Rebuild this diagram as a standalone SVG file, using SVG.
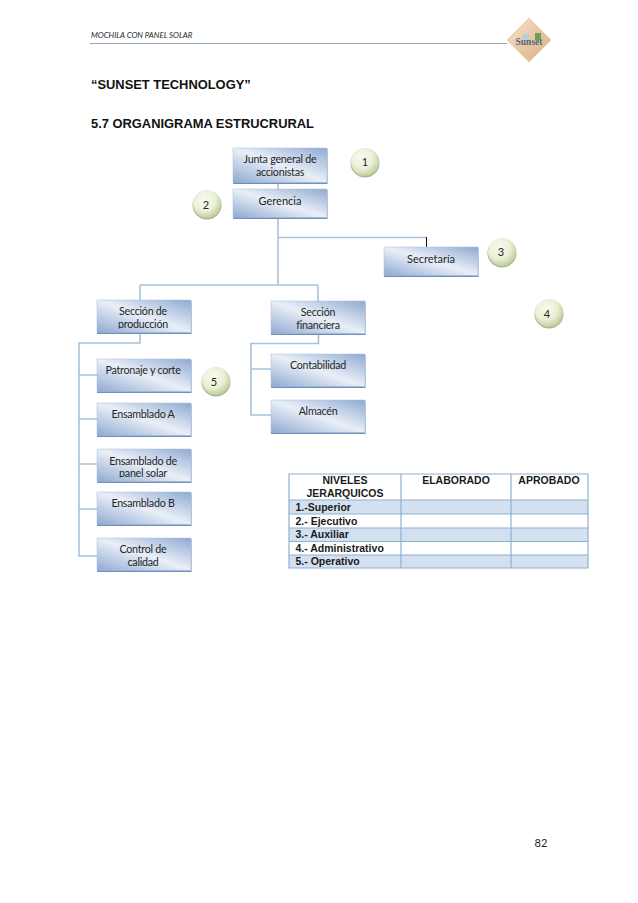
<svg xmlns="http://www.w3.org/2000/svg" width="638" height="903" viewBox="0 0 638 903">
<style>
text{font-family:"Lato","Carlito","Liberation Sans",sans-serif;fill:#262626;text-anchor:middle}
.n{font-size:10.700px;letter-spacing:-.25px}
.m{font-size:11px}
.h{font-family:"Liberation Sans",Arial,sans-serif;font-weight:bold;font-size:12.9px;fill:#111;text-anchor:start}
.t{font-family:"Liberation Sans",Arial,sans-serif;font-weight:bold;font-size:10.5px;fill:#1a1a1a}
.l{text-anchor:start}
.b{fill:url(#bg);stroke:#a9bedb;stroke-width:.5}
.s{fill:#6f8fba;filter:url(#blur)}
.c{fill:url(#cg)}
.cs{fill:#aeb59c;filter:url(#blur)}
.w{fill:none;stroke:#a9c1dc;stroke-width:1.6}
.g{stroke:#8fb0d2;stroke-width:1.2;fill:none}
</style>
<defs>
<filter id="blur" x="-10%" y="-10%" width="120%" height="120%"><feGaussianBlur stdDeviation=".6"/></filter>
<linearGradient id="bg" x1="0" y1="1" x2="1" y2="0">
<stop offset="0" stop-color="#8fa9d2"/><stop offset=".5" stop-color="#e9eff7"/><stop offset="1" stop-color="#8fa9d2"/>
</linearGradient>
<radialGradient id="cg" cx=".4" cy=".35" r=".72">
<stop offset="0" stop-color="#fafbf0"/><stop offset=".55" stop-color="#eaf0d6"/><stop offset="1" stop-color="#b7c88c"/>
</radialGradient>
<linearGradient id="dg" x1="0" y1="0" x2="1" y2="1">
<stop offset="0" stop-color="#f6e2ca"/><stop offset="1" stop-color="#dcae80"/>
</linearGradient>
<clipPath id="c1"><rect x="96" y="300" width="96" height="28.500"/></clipPath>
<clipPath id="c2"><rect x="96" y="449" width="96" height="28.500"/></clipPath>
</defs>
<rect width="638" height="903" fill="#fff"/>

<g id="page-header">
<text x="91" y="38" style="font-size:7.9px;font-style:italic;text-anchor:start">MOCHILA CON PANEL SOLAR</text>
<path d="M90 43.500H507" stroke="#92abc3" stroke-width="1"/>
</g>
<g id="logo">
<path d="M529 18L551 40L529 62L507 40Z" fill="url(#dg)" stroke="#e3c7a5" stroke-width=".8"/>
<circle cx="526" cy="37" r="3.500" fill="#b5cfdc"/>
<rect x="535" y="33" width="6" height="7" fill="#6f9e55"/>
<text x="529" y="45" style="font-family:'Liberation Serif',serif;font-size:9.500px;font-weight:bold;fill:#4f6a80">Sunset</text>
</g>
<text class="h" x="91" y="89">“SUNSET TECHNOLOGY”</text>
<text class="h" x="91" y="128">5.7 ORGANIGRAMA ESTRUCRURAL</text>

<g id="connectors">
<path class="w" d="M278 183V189M278 218V285M278 237.500H426M140 285H318M140 285V300M318 285V301"/>
<path d="M426.500 237V247" stroke="#111" stroke-width="1" fill="none"/>
<path class="w" d="M140 333V343H79V556H97M79 375H97M79 419H97M79 464H97M79 509H97"/>
<path class="w" d="M318.500 334V343.500H251V415H271M251 369H271"/>
</g>

<g id="n-junta"><rect class="s" x="233" y="149" width="94.500" height="35"/><rect class="b" x="233" y="148" width="94" height="34.500"/><text class="n" x="280" y="163">Junta general de</text><text class="n" x="280" y="175.500">accionistas</text></g>
<g id="n-gerencia"><rect class="s" x="233" y="190" width="94.500" height="29"/><rect class="b" x="233" y="189" width="94" height="28.500"/><text class="m" x="280" y="205">Gerencia</text></g>
<g id="n-secretaria"><rect class="s" x="384" y="248" width="94.500" height="29"/><rect class="b" x="384" y="247" width="94" height="28.500"/><text class="m" x="431" y="263">Secretaría</text></g>
<g id="n-produccion"><rect class="s" x="97" y="301" width="94.500" height="33"/><rect class="b" x="97" y="300" width="94" height="32.500"/><g clip-path="url(#c1)"><text class="n" x="143" y="315">Sección de</text><text class="n" x="143" y="328">producción</text></g></g>
<g id="n-financiera"><rect class="s" x="271" y="302" width="94.500" height="33"/><rect class="b" x="271" y="301" width="94" height="32.500"/><text class="n" x="318" y="316">Sección</text><text class="n" x="318" y="329">financiera</text></g>
<g id="n-patronaje"><rect class="s" x="97" y="360" width="94.500" height="33"/><rect class="b" x="97" y="359" width="94" height="32.500"/><text class="n" x="143" y="374">Patronaje y corte</text></g>
<g id="n-ensamblado-a"><rect class="s" x="97" y="404" width="94.500" height="33"/><rect class="b" x="97" y="403" width="94" height="32.500"/><text class="n" x="143" y="418">Ensamblado A</text></g>
<g id="n-ensamblado-panel"><rect class="s" x="97" y="450" width="94.500" height="33"/><rect class="b" x="97" y="449" width="94" height="32.500"/><g clip-path="url(#c2)"><text class="n" x="143" y="464.500">Ensamblado de</text><text class="n" x="143" y="477">panel solar</text></g></g>
<g id="n-ensamblado-b"><rect class="s" x="97" y="493" width="94.500" height="33"/><rect class="b" x="97" y="492" width="94" height="32.500"/><text class="n" x="143" y="507">Ensamblado B</text></g>
<g id="n-control"><rect class="s" x="97" y="539" width="94.500" height="33"/><rect class="b" x="97" y="538" width="94" height="32.500"/><text class="n" x="143" y="553">Control de</text><text class="n" x="143" y="566">calidad</text></g>
<g id="n-contabilidad"><rect class="s" x="271" y="355" width="94.500" height="33"/><rect class="b" x="271" y="354" width="94" height="32.500"/><text class="n" x="318" y="369">Contabilidad</text></g>
<g id="n-almacen"><rect class="s" x="271" y="401" width="94.500" height="33"/><rect class="b" x="271" y="400" width="94" height="32.500"/><text class="n" x="318" y="415">Almacén</text></g>

<g id="n-1"><circle class="cs" cx="365" cy="163" r="14.500"/><circle class="c" cx="365" cy="162" r="14"/><text class="m" x="365" y="166">1</text></g>
<g id="n-2"><circle class="cs" cx="207" cy="205" r="14.500"/><circle class="c" cx="207" cy="204" r="14"/><text class="m" x="206" y="209">2</text></g>
<g id="n-3"><circle class="cs" cx="502" cy="253" r="14.500"/><circle class="c" cx="502" cy="252" r="14"/><text class="m" x="501" y="256">3</text></g>
<g id="n-4"><circle class="cs" cx="549" cy="314" r="14.500"/><circle class="c" cx="549" cy="313" r="14"/><text class="m" x="547" y="318">4</text></g>
<g id="n-5"><circle class="cs" cx="216" cy="382" r="14.500"/><circle class="c" cx="216" cy="381" r="14"/><text class="m" x="214" y="386">5</text></g>

<g id="table">
<rect x="289" y="500" width="299" height="14" fill="#d3e0ef"/>
<rect x="289" y="528" width="299" height="13.500" fill="#d3e0ef"/>
<rect x="289" y="555" width="299" height="13" fill="#d3e0ef"/>
<path class="g" d="M289 474H588V568H289ZM401 474V568M511 474V568M289 500H588M289 514H588M289 528H588M289 541.500H588M289 555H588"/>
<text class="t" x="345" y="484">NIVELES</text>
<text class="t" x="345" y="497">JERARQUICOS</text>
<text class="t" x="456" y="484">ELABORADO</text>
<text class="t" x="549" y="484">APROBADO</text>
<text class="t l" x="295.500" y="511" style="text-anchor:start">1.-Superior</text>
<text class="t l" x="295.500" y="525" style="text-anchor:start">2.- Ejecutivo</text>
<text class="t l" x="295.500" y="538" style="text-anchor:start">3.- Auxiliar</text>
<text class="t l" x="295.500" y="552" style="text-anchor:start">4.- Administrativo</text>
<text class="t l" x="295.500" y="565" style="text-anchor:start">5.- Operativo</text>
</g>
<text id="page-number" x="541" y="847" style="font-size:11px">82</text>
</svg>
